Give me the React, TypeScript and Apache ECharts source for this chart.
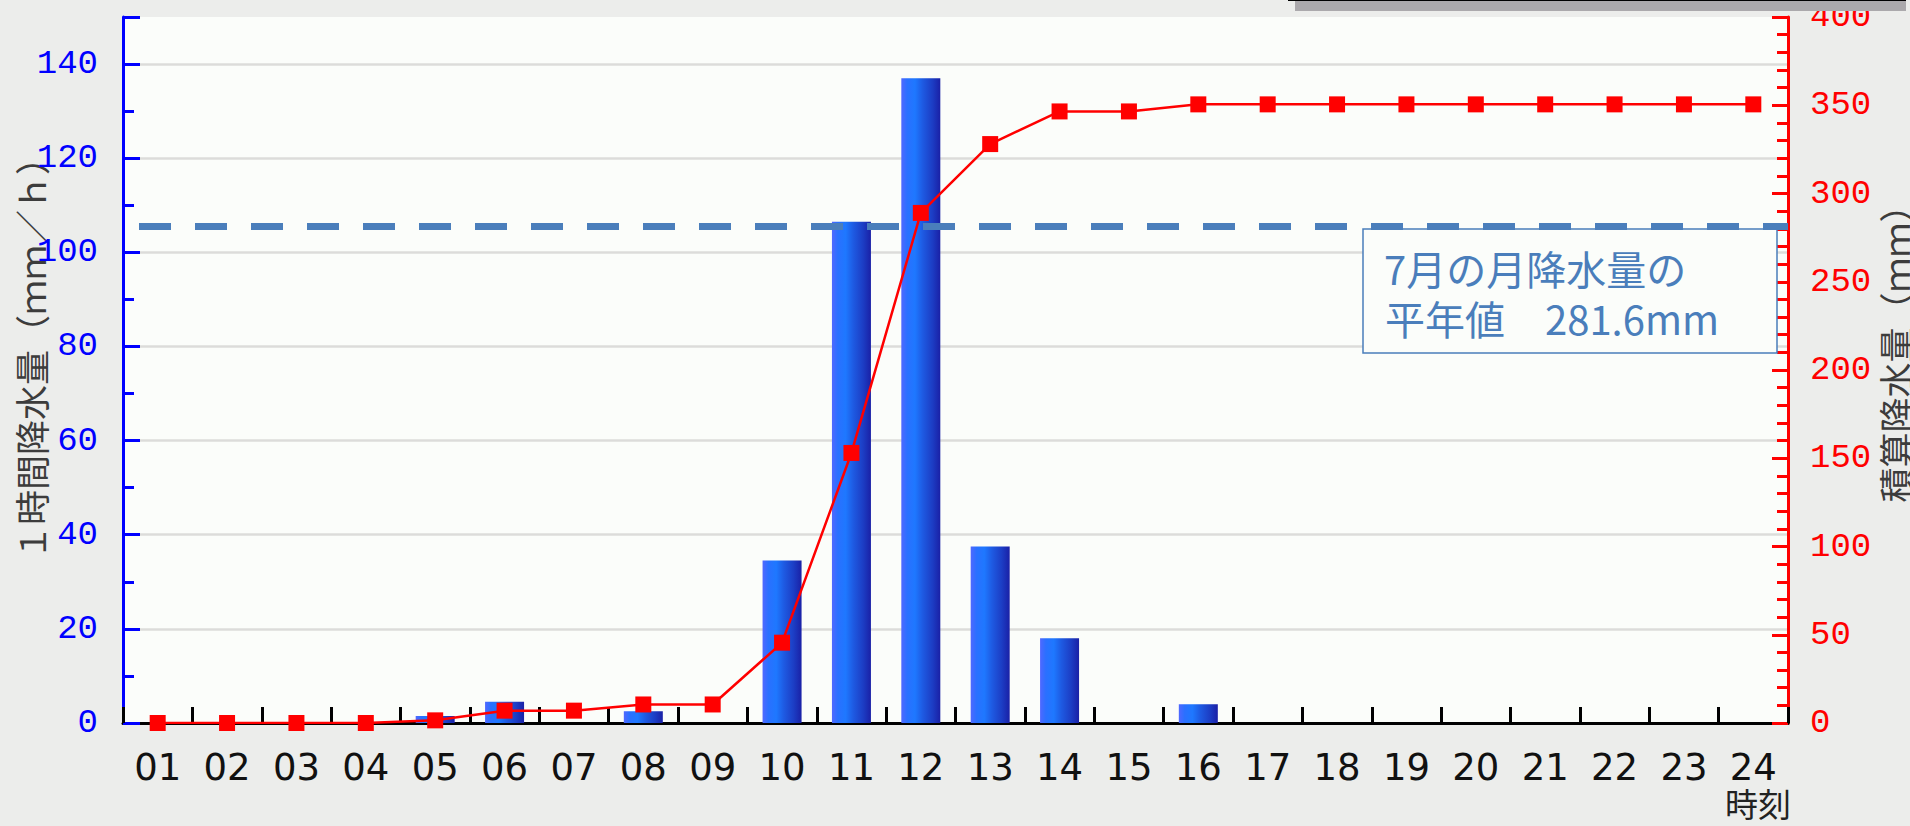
import React, { useEffect, useRef } from "react";
import * as echarts from "echarts";

const hours = ["01", "02", "03", "04", "05", "06", "07", "08", "09", "10", "11", "12", "13", "14", "15", "16", "17", "18", "19", "20", "21", "22", "23", "24"];
const hourlyRain = [0, 0, 0, 0, 1.5, 4.5, 0, 2.5, 0, 34.5, 106.5, 137, 37.5, 18, 0, 4, 0, 0, 0, 0, 0, 0, 0, 0];
const cumulativeRain = [0, 0, 0, 0, 1.5, 7, 7, 10.5, 10.5, 45.5, 153, 289, 328, 346.5, 346.5, 350.5, 350.5, 350.5, 350.5, 350.5, 350.5, 350.5, 350.5, 350.5];
const normalMonthly = 281.6;
const leftAxisName = "１時間降水量（ｍｍ／ｈ）";
const rightAxisName = "積算降水量（ｍｍ）";
const xAxisName = "時刻";
const noteLine1 = "7月の月降水量の";
const noteLine2 = "平年値\u3000281.6mm";

const BG = "#ecedeb";
const PLOT_BG = "#fbfdfa";
const NOTE_BLUE = "#4a7ebb";

export default function App() {
  const ref = useRef<HTMLDivElement>(null);

  useEffect(() => {
    if (!ref.current) return;
    const chart = echarts.init(ref.current, null, { renderer: "svg" });
    const barGradient = new echarts.graphic.LinearGradient(0, 0, 1, 0, [
      { offset: 0, color: "#5068ff" },
      { offset: 0.15, color: "#2a70ff" },
      { offset: 0.35, color: "#1e78ff" },
      { offset: 0.55, color: "#1e5ae2" },
      { offset: 0.8, color: "#1c3dc4" },
      { offset: 1, color: "#1a20a6" },
    ]);
    const labelFont = "Liberation Mono";
    chart.setOption({
      animation: false,
      backgroundColor: BG,
      grid: {
        left: 123,
        right: 122,
        top: 17,
        bottom: 103,
        show: true,
        backgroundColor: PLOT_BG,
        borderWidth: 0,
      },
      xAxis: {
        type: "category",
        data: hours,
        boundaryGap: true,
        axisLine: { lineStyle: { color: "#000", width: 3 } },
        axisTick: { show: true, inside: true, length: 16, lineStyle: { color: "#000", width: 3 } },
        axisLabel: { color: "#111", fontSize: 37, fontFamily: "DejaVu Sans", margin: 26 },
        splitLine: { show: false },
      },
      yAxis: [
        {
          type: "value",
          min: 0,
          max: 150,
          interval: 20,
          position: "left",
          axisLine: { show: true, lineStyle: { color: "#0000ff", width: 3 } },
          axisTick: { show: true, inside: true, length: 17, lineStyle: { color: "#0000ff", width: 3 } },
          minorTick: { show: true, splitNumber: 2, length: 11, lineStyle: { color: "#0000ff", width: 3 } },
          axisLabel: {
            color: "#0000ff",
            fontSize: 34,
            fontFamily: labelFont,
            margin: 25,
            formatter: (v: number) => (v > 140 ? "" : String(v)),
          },
          splitLine: { show: true, showMaxLine: false, lineStyle: { color: "#dcdcda", width: 2.5 } },
        },
        {
          type: "value",
          min: 0,
          max: 400,
          interval: 50,
          position: "right",
          axisLine: { show: true, lineStyle: { color: "#ff0000", width: 3 } },
          axisTick: { show: true, inside: true, length: 16, lineStyle: { color: "#ff0000", width: 3 } },
          minorTick: { show: true, splitNumber: 5, length: 11, lineStyle: { color: "#ff0000", width: 3 } },
          axisLabel: { color: "#ff0000", fontSize: 34, fontFamily: labelFont, margin: 22 },
          splitLine: { show: false },
        },
      ],
      series: [
        {
          name: "1時間降水量",
          type: "bar",
          yAxisIndex: 0,
          data: hourlyRain,
          barWidth: 39,
          itemStyle: { color: barGradient },
        },
        {
          name: "平年値",
          type: "line",
          yAxisIndex: 1,
          data: [],
          markLine: {
            silent: true,
            symbol: ["none", "none"],
            label: { show: false },
            lineStyle: { color: NOTE_BLUE, width: 7, type: [32, 24], dashOffset: 40 },
            data: [{ yAxis: normalMonthly }],
          },
        },
        {
          name: "積算降水量",
          type: "line",
          yAxisIndex: 1,
          data: cumulativeRain,
          symbol: "rect",
          symbolSize: 16,
          showAllSymbol: true,
          lineStyle: { color: "#ff0000", width: 2.5 },
          itemStyle: { color: "#ff0000" },
        },
      ],
      graphic: [
        {
          type: "rect",
          z: 1,
          shape: { x: 1363, y: 229, width: 414, height: 124 },
          style: { fill: PLOT_BG, stroke: NOTE_BLUE, lineWidth: 1.5 },
        },
        {
          type: "text",
          z: 1,
          x: 1384,
          y: 268,
          style: { text: noteLine1, font: '40px "Noto Sans CJK JP"', fill: NOTE_BLUE, align: "left", verticalAlign: "middle" },
        },
        {
          type: "text",
          z: 1,
          x: 1385,
          y: 318,
          style: { text: noteLine2, font: '40px "Noto Sans CJK JP"', fill: NOTE_BLUE, align: "left", verticalAlign: "middle" },
        },
        {
          type: "text",
          x: 30,
          y: 350,
          rotation: Math.PI / 2,
          style: { text: leftAxisName, font: '35px "Noto Sans CJK JP"', fill: "#3c3c3c", align: "center", verticalAlign: "middle" },
        },
        {
          type: "text",
          x: 1894,
          y: 345,
          rotation: Math.PI / 2,
          style: { text: rightAxisName, font: '35px "Noto Sans CJK JP"', fill: "#3c3c3c", align: "center", verticalAlign: "middle" },
        },
        {
          type: "text",
          x: 1758,
          y: 803,
          style: { text: xAxisName, font: '33px "Noto Sans CJK JP"', fill: "#222", align: "center", verticalAlign: "middle" },
        },
        {
          type: "rect",
          z: 100,
          shape: { x: 1295, y: 0, width: 611, height: 11 },
          style: { fill: "#aba9ac" },
        },
        {
          type: "rect",
          z: 101,
          shape: { x: 1288, y: 0, width: 618, height: 1 },
          style: { fill: "#000" },
        },
      ],
    });
    return () => chart.dispose();
  }, []);

  return (
    <div
      ref={ref}
      style={{ position: "fixed", left: 0, top: 0, width: 1910, height: 826, background: BG }}
    />
  );
}
